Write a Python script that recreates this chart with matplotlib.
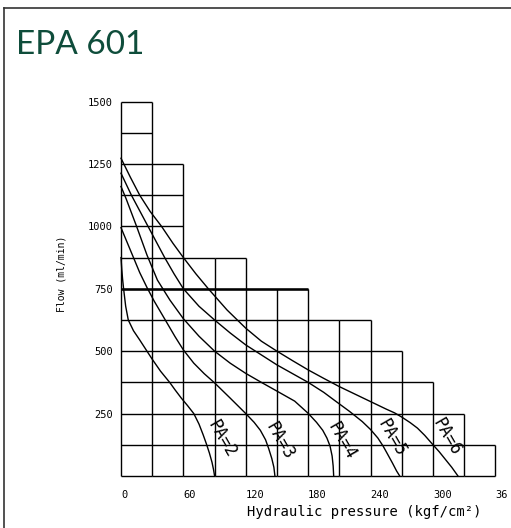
import matplotlib
matplotlib.use("Agg")
import matplotlib.pyplot as plt
import numpy as np
from matplotlib.patches import Rectangle
from matplotlib.lines import Line2D

# staircase grid: column width 30 kgf/cm2, row height 125 ml/min
col_width = 30
row_height = 125
col_heights = [1500, 1250, 875, 875, 750, 750, 625, 625, 500, 375, 250, 125]

x_ticks = [0, 60, 120, 180, 240, 300, 360]
y_ticks = [250, 500, 750, 1000, 1250, 1500]

# performance curves (pressure, flow)
pa2_p = [0, 0.7, 1.5, 2.5, 4.5, 7, 12, 18, 25, 30, 38, 47, 52, 58, 64, 70, 75, 79, 82, 85, 87.5, 89, 90]
pa2_f = [875, 830, 790, 750, 680, 625, 582, 545, 500, 468, 420, 374, 345, 312, 282, 250, 208, 165, 130, 92, 55, 25, 0]

pa3_p = [0, 6, 12, 18, 25, 32, 44, 52, 60, 70, 80, 90, 105, 120, 128, 134, 139, 142, 145, 147, 148]
pa3_f = [995, 935, 875, 815, 755, 700, 615, 558, 505, 452, 410, 373, 312, 250, 215, 183, 145, 110, 70, 35, 0]

pa4_p = [0, 5, 15, 25, 35, 47, 60, 75, 90, 105, 120, 135, 150, 167, 180, 188, 194, 198, 201, 203, 204, 204.5]
pa4_f = [1160, 1110, 1000, 885, 785, 705, 630, 560, 500, 452, 411, 375, 340, 300, 251, 215, 183, 152, 120, 80, 40, 0]

pa5_p = [0, 10, 26, 42, 51, 60, 75, 90, 105, 120, 150, 180, 195, 205, 220, 232, 240, 247, 252, 256, 261, 265, 268]
pa5_f = [1213, 1125, 1000, 875, 810, 750, 680, 625, 573, 525, 445, 375, 335, 304, 258, 218, 186, 152, 120, 90, 52, 20, 0]

pa6_p = [0, 9, 18, 28, 39, 50, 60, 72, 84, 102, 120, 135, 150, 165, 180, 195, 210, 225, 240, 255, 263, 270, 278, 285, 292, 300, 306, 312, 318, 324]
pa6_f = [1273, 1197, 1125, 1060, 1000, 932, 875, 810, 750, 665, 592, 540, 500, 462, 425, 391, 358, 328, 298, 268, 253, 236, 214, 192, 163, 125, 97, 66, 35, 0]

curves = [
    ("PA=2", pa2_p, pa2_f, (97, 148)),
    ("PA=3", pa3_p, pa3_f, (153, 140)),
    ("PA=4", pa4_p, pa4_f, (212, 140)),
    ("PA=5", pa5_p, pa5_f, (260, 152)),
    ("PA=6", pa6_p, pa6_f, (313, 157)),
]

W, H = 511, 528
fig = plt.figure(figsize=(W / 100, H / 100), dpi=100)
fig.patch.set_facecolor("white")

# axes box in pixels: x 0->121 .. 360->495.4, y 0->476 .. 1500->101.6
ax = fig.add_axes([121 / W, (H - 476) / H, 374.4 / W, 374.4 / H])
ax.set_xlim(0, 360)
ax.set_ylim(0, 1500)
for s in ax.spines.values():
    s.set_visible(False)
ax.patch.set_visible(False)

mono = "DejaVu Sans Mono"
ax.set_xticks(x_ticks)
ax.set_xticklabels([str(v) for v in x_ticks], fontsize=7.5, family=mono)
ax.set_yticks(y_ticks)
ax.set_yticklabels([str(v) for v in y_ticks], fontsize=7.5, family=mono)
ax.tick_params(length=0)
ax.tick_params(axis="x", pad=10)
ax.tick_params(axis="y", pad=6)
for lab in ax.get_xticklabels():
    lab.set_horizontalalignment("left")

# grid cells
lw = 1.0
n = len(col_heights)
for i, h in enumerate(col_heights):
    levels = np.arange(0, h + 1, row_height)
    ax.hlines(levels, i * col_width, (i + 1) * col_width, color="black",
              lw=lw, clip_on=False)
for i in range(n + 1):
    left = col_heights[i - 1] if i > 0 else 0
    right = col_heights[i] if i < n else 0
    ax.vlines(i * col_width, 0, max(left, right), color="black", lw=lw,
              clip_on=False)
# the 750 row line is drawn heavier in the original
n750 = sum(1 for h in col_heights if h >= 750)
ax.hlines(750, 0, n750 * col_width, color="black", lw=1.8, clip_on=False)

for label, p, f, (lx, ly) in curves:
    ax.plot(p, f, color="black", lw=1.0, clip_on=False,
            solid_joinstyle="round")
    ax.text(lx, ly, label, rotation=-60, rotation_mode="anchor",
            ha="center", va="center", fontsize=12, family=mono)

fig.text(364 / W, 1 - 512 / H, "Hydraulic pressure (kgf/cm²)", family=mono,
         fontsize=10, ha="center", va="center")
fig.text(61 / W, 1 - 274 / H, "Flow (ml/min)", family=mono, fontsize=7,
         rotation=90, ha="center", va="center")

fig.text(16 / W, 1 - 53.5 / H, "EPA 601", family="Lato", fontsize=24,
         color="#0f4d3b", ha="left", va="baseline")

# the original is cropped on the right edge (the "360" label is cut)
fig.patches.append(Rectangle((507.5 / W, 0), 4 / W, 1, transform=fig.transFigure,
                             facecolor="white", edgecolor="none", zorder=5))
fig.lines.append(Line2D([3.5 / W, 3.5 / W], [0, 1 - 7.5 / H],
                        transform=fig.transFigure, color="#333333", lw=1.2,
                        zorder=6))
fig.lines.append(Line2D([3.5 / W, 1], [1 - 7.5 / H, 1 - 7.5 / H],
                        transform=fig.transFigure, color="#333333", lw=1.2,
                        zorder=6))

fig.savefig("out.png", dpi=100)
